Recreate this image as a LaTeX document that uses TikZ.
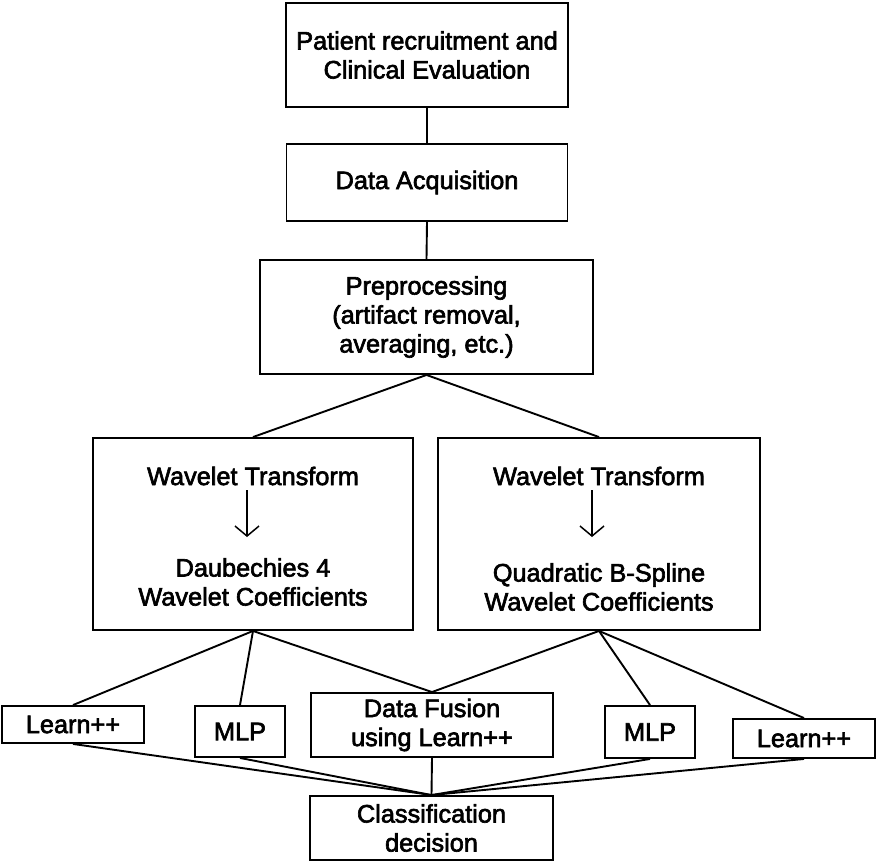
\documentclass[tikz,border=0pt]{standalone}
\usepackage{fontspec}
\setmainfont{Liberation Sans}[BoldFont=Liberation Sans, BoldFeatures={FakeBold=2.5}]
\usetikzlibrary{arrows.meta}
\begin{document}
\begin{tikzpicture}[x=1pt,y=-1pt,
  every node/.style={font=\fontsize{25.3pt}{29pt}\selectfont\bfseries, align=center, inner sep=0pt},
  box/.style={draw, line width=1.9pt, rectangle},
  link/.style={line width=1.9pt},
  inner/.style={line width=1.5pt, -{Straight Barb[length=10pt,width=24pt,line width=1.5pt]}}]
\useasboundingbox (0,0) rectangle (876,862);

% pipeline boxes
\node[box, minimum width=282pt, minimum height=104pt] (pat) at (427,55)
  {Patient recruitment and\\Clinical Evaluation};
\node[box, minimum width=281pt, minimum height=77pt] (acq) at (427,182.5)
  {Data Acquisition};
\node[box, minimum width=333pt, minimum height=114pt] (pre) at (426.5,317)
  {Preprocessing\\(artifact removal,\\averaging, etc.)};

% wavelet branches
\node[box, minimum width=320pt, minimum height=192pt] (wl) at (253,534) {};
\node[box, minimum width=322pt, minimum height=192pt] (wr) at (599,534) {};
\node (wlt) at (253,476) {Wavelet Transform};
\node (wlc) at (253,582) {Daubechies 4\\Wavelet Coefficients};
\node (wrt) at (599,476) {Wavelet Transform};
\node (wrc) at (599,587) {Quadratic B-Spline\\Wavelet Coefficients};
\coordinate (wla) at (247,490);
\coordinate (wlb) at (247,537);
\coordinate (wra) at (592,490);
\coordinate (wrb) at (592,537);
\draw[inner] (wla) -- (wlb);
\draw[inner] (wra) -- (wrb);

% classifiers
\node[box, minimum width=142pt, minimum height=37pt] (l1) at (73,724.5) {Learn++};
\node[box, minimum width=90pt, minimum height=51pt] (m1) at (240,731.5) {MLP};
\node[box, minimum width=242pt, minimum height=64pt] (df) at (432,725)
  {Data Fusion\\using Learn++};
\node[box, minimum width=90pt, minimum height=52pt] (m2) at (650,732) {MLP};
\node[box, minimum width=142pt, minimum height=39pt] (l2) at (804,738.5) {Learn++};
\node[box, minimum width=243pt, minimum height=64pt] (cl) at (431.5,828)
  {Classification\\decision};

% connectors
\draw[link] (pat.south) -- (acq.north);
\draw[link] (acq.south) -- (pre.north);
\draw[link] (pre.south) -- (wl.north);
\draw[link] (pre.south) -- (wr.north);
\draw[link] (wl.south) -- (l1.north);
\draw[link] (wl.south) -- (m1.north);
\draw[link] (wl.south) -- (df.north);
\draw[link] (wr.south) -- (df.north);
\draw[link] (wr.south) -- (m2.north);
\draw[link] (wr.south) -- (l2.north);
\draw[link] (l1.south) -- (cl.north);
\draw[link] (m1.south) -- (cl.north);
\draw[link] (df.south) -- (cl.north);
\draw[link] (m2.south) -- (cl.north);
\draw[link] (l2.south) -- (cl.north);
\end{tikzpicture}
\end{document}
